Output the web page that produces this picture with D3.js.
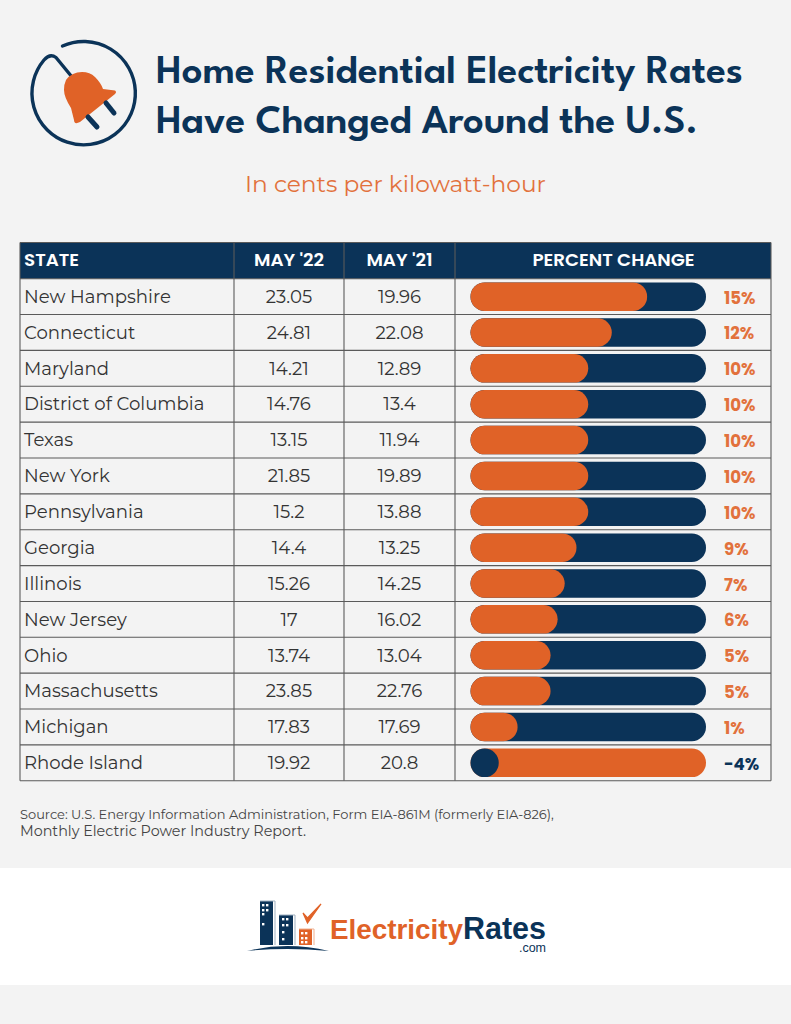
<!DOCTYPE html>
<html><head><meta charset="utf-8">
<script src="https://cdn.jsdelivr.net/npm/d3@7"></script>
<style>html,body{margin:0;padding:0;background:#f3f3f3}svg{display:block}</style>
</head><body><svg id="c" width="791" height="1024"></svg>
<script>
const states=["New Hampshire","Connecticut","Maryland","District of Columbia","Texas","New York","Pennsylvania","Georgia","Illinois","New Jersey","Ohio","Massachusetts","Michigan","Rhode Island"];
const may22=[23.05,24.81,14.21,14.76,13.15,21.85,15.2,14.4,15.26,17,13.74,23.85,17.83,19.92];
const may21=[19.96,22.08,12.89,13.4,11.94,19.89,13.88,13.25,14.25,16.02,13.04,22.76,17.69,20.8];
const percentChange=[15,12,10,10,10,10,10,9,7,6,5,5,1,-4];
const barFillShare=[75,60,50,50,50,50,50,45,40,37,34,34,20,12];
const headers=["STATE","MAY '22","MAY '21","PERCENT CHANGE"];
const navy="#0b3358",orange="#e06227",lightOrange="#e2713c",grid="#5a5a5a",bg="#f3f3f3",ink="#333";
const body="Montserrat,'DejaVu Sans',sans-serif",head="'League Spartan',Lexend,sans-serif",sub="Poppins,Inter,sans-serif",logoF="'Liberation Sans',Arial,sans-serif";
const svg=d3.select("#c");
svg.append("rect").attr("width",791).attr("height",1024).attr("fill",bg);
svg.append("rect").attr("y",868).attr("width",791).attr("height",117).attr("fill","#fff");
function fitSize(t,w){const fs=parseFloat(t.attr("font-size"));t.attr("font-size",(fs*w/t.node().getComputedTextLength()).toFixed(2));return t}
function fitSpacing(t,w){const s=t.text();t.attr("letter-spacing",((w-t.node().getComputedTextLength())/(s.length-1)).toFixed(3));return t}
// title
[["Home Residential Electricity Rates",83,587],["Have Changed Around the U.S.",133,542]].forEach(l=>
 fitSpacing(svg.append("text").attr("x",156).attr("y",l[1]).attr("font-family",head).attr("font-weight",600).attr("font-size",41).attr("fill",navy).text(l[0]),l[2]));
fitSize(svg.append("text").attr("x",245).attr("y",192).attr("font-family",body).attr("font-size",22).attr("fill",lightOrange).text("In cents per kilowatt-hour"),301);
// icon
const icon=svg.append("g");
icon.append("path").attr("fill","none").attr("stroke",navy).attr("stroke-width",3.4).attr("stroke-linecap","round").attr("stroke-linejoin","round")
 .attr("d","M62.5 46 A51.7 51.7 0 1 1 44 60 Q50 53 56 57.5 L72 77");
icon.append("path").attr("fill",orange).attr("d","M66 80 Q72 72 82 72 Q90 72 95 77 Q101 83 103 89 L115 90.5 Q117 92 115 94 L80 122 Q74 125 74 120 L71 108 Q64 97 64 90 Q64 84 66 80Z");
[[88,117,97,127],[106,103,114,113]].forEach(p=>icon.append("line").attr("x1",p[0]).attr("y1",p[1]).attr("x2",p[2]).attr("y2",p[3]).attr("stroke",navy).attr("stroke-width",5).attr("stroke-linecap","round"));
// table
const colEdges=[20,234,344,455,771];
const tableHeadTop=242.5,tableTop=278.7,rowH=35.86;
const y=d3.scaleBand().domain(states).range([tableTop,tableTop+rowH*states.length]);
const fillScale=d3.scaleLinear().domain([0,100]).range([0,235.5]);
const barX=470.5,barH=28.5;
svg.append("rect").attr("x",20).attr("y",tableHeadTop).attr("width",751).attr("height",tableTop-tableHeadTop).attr("fill",navy);
const hdr=svg.append("g").attr("font-family",sub).attr("font-weight",600).attr("font-size",18.3).attr("fill","#fff");
hdr.selectAll("text").data(headers).join("text").attr("y",265.5)
 .attr("x",(d,i)=>i==0?24:i==3?613.5:(colEdges[i]+colEdges[i+1])/2)
 .attr("text-anchor",(d,i)=>i==0?"start":"middle").text(d=>d);
const rows=svg.selectAll("g.row").data(states).join("g").attr("class","row").attr("transform",d=>`translate(0,${y(d)})`);
const cy=rowH/2;
const tf=18.1;
rows.append("text").attr("x",24).attr("y",cy+6.3).attr("font-family",body).attr("font-size",tf).attr("fill",ink).text(d=>d);
rows.append("text").attr("x",289).attr("y",cy+6.3).attr("text-anchor","middle").attr("font-family",body).attr("font-size",tf).attr("fill",ink).text((d,i)=>may22[i]);
rows.append("text").attr("x",399.5).attr("y",cy+6.3).attr("text-anchor","middle").attr("font-family",body).attr("font-size",tf).attr("fill",ink).text((d,i)=>may21[i]);
rows.append("rect").attr("x",barX).attr("y",cy-barH/2).attr("height",barH).attr("rx",barH/2).attr("width",fillScale(100)).attr("fill",(d,i)=>percentChange[i]<0?orange:navy);
rows.append("rect").attr("x",barX).attr("y",cy-barH/2).attr("height",barH).attr("rx",barH/2).attr("width",(d,i)=>fillScale(barFillShare[i])).attr("fill",(d,i)=>percentChange[i]<0?navy:orange);
rows.append("text").attr("x",724).attr("y",cy+7).attr("font-family",sub).attr("font-weight",700).attr("font-size",16.6).attr("fill",(d,i)=>percentChange[i]<0?navy:lightOrange).text((d,i)=>percentChange[i]+"%");
// grid
const g=svg.append("g").attr("stroke",grid).attr("stroke-width",1.1);
const bottom=tableTop+rowH*states.length;
d3.range(states.length).forEach(i=>g.append("line").attr("x1",20).attr("x2",771).attr("y1",y(states[i])).attr("y2",y(states[i])));
[tableHeadTop,bottom].forEach(v=>g.append("line").attr("x1",20).attr("x2",771).attr("y1",v).attr("y2",v));
colEdges.forEach(x=>g.append("line").attr("x1",x).attr("x2",x).attr("y1",tableHeadTop).attr("y2",bottom));
// source
const src=svg.append("g").attr("font-family",body).attr("fill","#444");
fitSize(src.append("text").attr("x",20).attr("y",819).text("Source: U.S. Energy Information Administration, Form EIA-861M (formerly EIA-826),").attr("font-size",12),534);
fitSize(src.append("text").attr("x",20).attr("y",836).text("Monthly Electric Power Industry Report.").attr("font-size",12),286);
// logo
const logo=svg.append("g");
logo.append("rect").attr("x",260).attr("y",901).attr("width",13).attr("height",44).attr("fill",navy);
logo.append("path").attr("d","M260 901H275V945").attr("fill","none").attr("stroke","#9fb0c0").attr("stroke-width",1);
logo.append("rect").attr("x",279).attr("y",915).attr("width",14).attr("height",30).attr("fill",navy);
logo.append("path").attr("d","M279 915H295V945").attr("fill","none").attr("stroke","#9fb0c0").attr("stroke-width",1);
logo.append("rect").attr("x",299).attr("y",929).attr("width",13).attr("height",16).attr("fill",orange);
logo.append("path").attr("d","M299 929H314V945").attr("fill","none").attr("stroke","#f0b090").attr("stroke-width",1);
[[262,904],[266,904],[262,909],[266,909],[262,913],[262,923],[282,918],[286,918],[282,924],[286,924],[282,931],[282,938]].forEach(p=>logo.append("rect").attr("x",p[0]).attr("y",p[1]).attr("width",2.4).attr("height",2.4).attr("fill","#fff"));
[[301,932],[305,932],[301,937],[305,937],[301,941],[305,941]].forEach(p=>logo.append("rect").attr("x",p[0]).attr("y",p[1]).attr("width",2.4).attr("height",2.4).attr("fill","#fff"));
logo.append("path").attr("d","M303 913L307.5 923L321 904L307.5 918Z").attr("fill",orange).attr("stroke",orange).attr("stroke-width",1.2);
logo.append("path").attr("d","M247 951Q287 941 329 951Q287 947 247 951Z").attr("fill",navy);
fitSize(logo.append("text").attr("x",330).attr("y",939).attr("font-family",logoF).attr("font-weight",700).attr("font-size",28).attr("fill",orange).text("Electricity"),133);
fitSize(logo.append("text").attr("x",463).attr("y",939).attr("font-family",logoF).attr("font-weight",700).attr("font-size",28).attr("fill",navy).text("Rates"),83);
logo.append("text").attr("x",546).attr("y",952).attr("text-anchor","end").attr("font-family",logoF).attr("font-size",12.5).attr("fill",navy).text(".com");
</script></body></html>
